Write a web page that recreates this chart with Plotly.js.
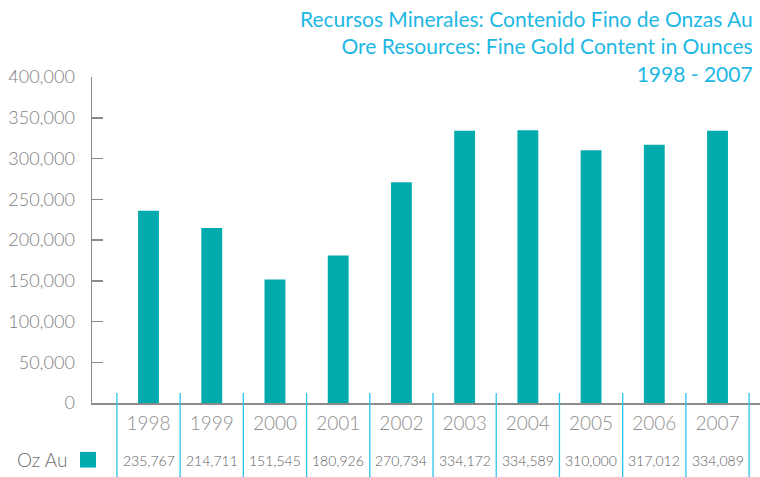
<!DOCTYPE html>
<html>
<head>
<meta charset="utf-8">
<script src="https://cdn.plot.ly/plotly-3.0.1.min.js"></script>
<style>html,body{margin:0;padding:0;background:#fff;}#chart{width:760px;height:477px;}</style>
</head>
<body>
<div id="chart"></div>
<script>
const years = ['1998','1999','2000','2001','2002','2003','2004','2005','2006','2007'];
const ozAu = [235767, 214711, 151545, 180926, 270734, 334172, 334589, 310000, 317012, 334089];
const seriesName = 'Oz Au';
const titleLines = ['Recursos Minerales: Contenido Fino de Onzas Au', 'Ore Resources: Fine Gold Content in Ounces', '1998 - 2007'];

const teal = '#00aaad';
const cyan = '#1db8e4';
const sepColor = '#2cc3ee';
const gray = '#7e7e7e';
const font = 'Lato, "Open Sans", sans-serif';

const trace = {
  type: 'bar', x: years, y: ozAu, name: seriesName,
  marker: {color: teal}, width: 0.33, showlegend: false, hoverinfo: 'x+y'
};

const shapes = [];
for (let i = 0; i <= years.length; i++) {
  shapes.push({type: 'line', xref: 'x', yref: 'paper', x0: i - 0.5, x1: i - 0.5,
    y0: 0.031, y1: -0.23, line: {color: sepColor, width: 1.3}});
}
shapes.push({type: 'rect', xref: 'paper', yref: 'paper', x0: -0.018, x1: 0.006,
  y0: -0.150, y1: -0.198, fillcolor: teal, line: {width: 0}});

const annotations = years.map((yr, i) => ({
  x: i, xref: 'x', y: -0.175, yref: 'paper', xanchor: 'center', yanchor: 'middle',
  text: ozAu[i].toLocaleString('en-US'), showarrow: false,
  font: {family: font, size: 14, color: '#5e5e5e', weight: 300}
}));
annotations.push({x: -0.035, xref: 'paper', y: -0.172, yref: 'paper', xanchor: 'right', yanchor: 'middle',
  text: seriesName, showarrow: false, font: {family: font, size: 19, color: '#6e6e6e', weight: 300}});
annotations.push({x: 0.992, xref: 'paper', y: 1.095, yref: 'paper', xanchor: 'right', yanchor: 'middle',
  align: 'right', text: titleLines.join('<br>'), showarrow: false,
  font: {family: font, size: 21, color: cyan}});

const layout = {
  width: 760, height: 477,
  margin: {l: 92, r: 0, t: 77, b: 74, pad: 0},
  paper_bgcolor: '#fff', plot_bgcolor: '#fff',
  xaxis: {
    type: 'category', range: [-0.894, 9.672],
    showline: true, linecolor: '#8a8a8a', linewidth: 1.5,
    ticks: '', showgrid: false, zeroline: false,
    tickfont: {family: font, size: 19, color: '#8e8e8e', weight: 300},
    ticklabelstandoff: 3, fixedrange: true
  },
  yaxis: {
    range: [0, 400000], dtick: 50000, tickformat: ',',
    showline: true, linecolor: '#8a8a8a', linewidth: 1.5,
    ticks: 'inside', ticklen: 11, tickwidth: 1.5, tickcolor: '#8a8a8a',
    showgrid: false, zeroline: false,
    tickfont: {family: font, size: 18, color: gray, weight: 300},
    ticklabelstandoff: 12, fixedrange: true
  },
  shapes: shapes,
  annotations: annotations,
  bargap: 0.67
};

Plotly.newPlot('chart', [trace], layout, {displayModeBar: false, staticPlot: true});
</script>
</body>
</html>
